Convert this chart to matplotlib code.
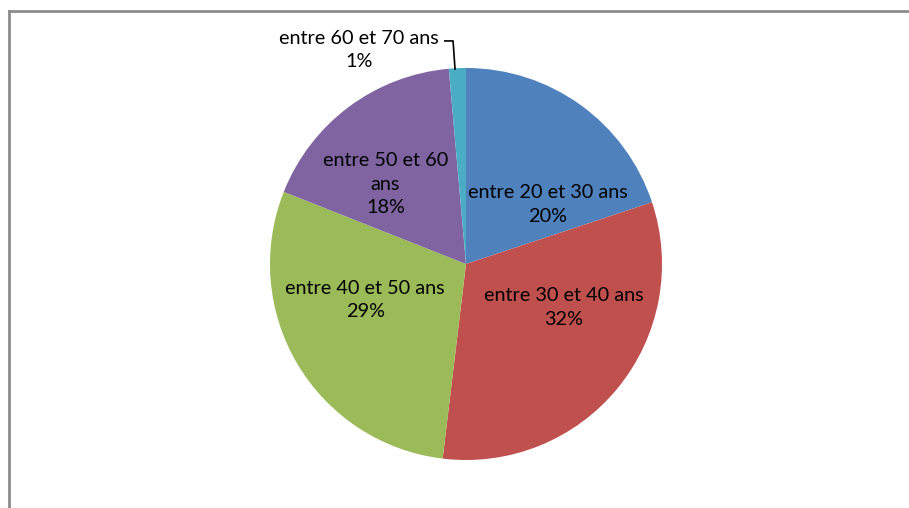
import numpy as np
import matplotlib
matplotlib.use('Agg')
import matplotlib.pyplot as plt

labels = ['entre 20 et 30 ans', 'entre 30 et 40 ans', 'entre 40 et 50 ans',
          'entre 50 et 60\nans', 'entre 60 et 70 ans']
values = [19.9, 32.0, 29.1, 17.6, 1.4]
colors = ['#4F81BD', '#C0504D', '#9BBB59', '#8064A2', '#4BACC6']

# label placement (axes units, radius = 1)
label_pos = [(0.416, 0.304), (0.50, -0.222), (-0.515, -0.184), (-0.411, 0.408), (-0.546, 1.092)]

plt.rcParams['font.family'] = ['Lato', 'DejaVu Sans']

W, H = 909, 508
fig = plt.figure(figsize=(W / 100, H / 100), dpi=100)

# chart border (cropped on the right and bottom)
fig.add_artist(plt.Line2D([9 / W, 9 / W], [0, 1 - 11 / H], color='#8c8c8c', lw=2))
fig.add_artist(plt.Line2D([9 / W, 907 / W], [1 - 11 / H, 1 - 11 / H], color='#8c8c8c', lw=2))

cx, cy, r = 466, 264, 196
ax = fig.add_axes([(cx - r) / W, (H - cy - r) / H, 2 * r / W, 2 * r / H])
ax.pie(values, colors=colors, startangle=90, counterclock=False, radius=1,
       wedgeprops={'linewidth': 0})
ax.set_xlim(-1, 1)
ax.set_ylim(-1, 1)
ax.set_aspect('equal')
ax.axis('off')

total = sum(values)
for lab, v, (x, y) in zip(labels, values, label_pos):
    pct = f'{round(v / total * 100):.0f}%'
    ax.text(x, y, f'{lab}\n{pct}', ha='center', va='center', fontsize=14.3,
            color='black', linespacing=1.45, clip_on=False)

# leader line for the smallest slice
ax.plot([-0.108, -0.066, -0.056], [1.138, 1.138, 0.995], color='black', lw=1.2, clip_on=False)

fig.savefig('out.png', dpi=100)
